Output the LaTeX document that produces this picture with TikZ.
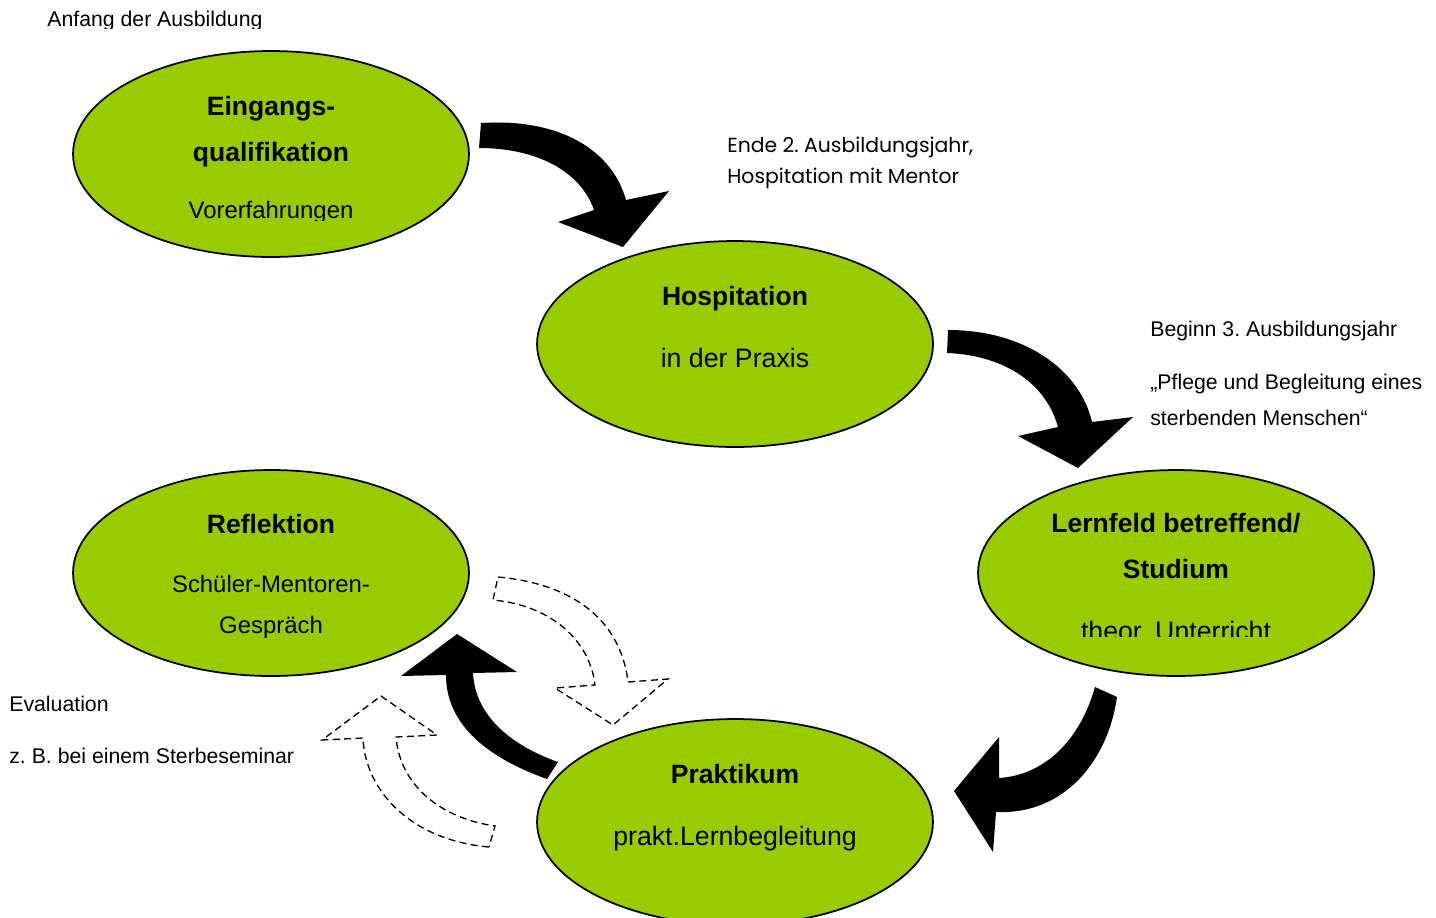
\documentclass[tikz,border=0pt]{standalone}
\usepackage{fontspec}
\setmainfont{Liberation Sans}
\newfontfamily\gothicfont{Poppins}
\usetikzlibrary{shapes.geometric}
\definecolor{lime}{HTML}{99CC00}
\frenchspacing
\tikzset{
  phase/.style={ellipse, draw=black, line width=1pt, fill=lime, minimum width=7.92cm, minimum height=4.12cm, inner sep=0pt},
  title/.style={anchor=base, font=\bfseries\fontsize{15.1}{18}\selectfont},
  sub/.style={anchor=base, font=\fontsize{13.6}{16}\selectfont},
  subbig/.style={anchor=base, font=\fontsize{15.2}{18}\selectfont},
  note/.style={anchor=base west, inner sep=0pt, font=\fontsize{12.1}{14}\selectfont},
  gnote/.style={anchor=base west, inner sep=0pt, font=\gothicfont\fontsize{11.6}{14}\selectfont},
  ghost/.style={draw=black, dash pattern=on 4pt off 2.5pt, line width=0.75pt, fill=white}
}
\begin{document}
\begin{tikzpicture}[x=0.02cm, y=-0.02cm]
  \useasboundingbox (0,0) rectangle (1436,917);
  \node[phase] (eing) at (271,154) {};
  \node[phase] (hosp) at (735,344) {};
  \node[phase] (lern) at (1176,573) {};
  \node[phase] (refl) at (271,573) {};
  \node[phase] (prak) at (735,822) {};

  \begin{scope}
    \clip (0,0) rectangle (400,28.7);
    \node[note] (anfang) at (47,26.5) {Anfang der Ausbildung};
  \end{scope}
  \node[title] (eing1) at (271,115) {Eingangs-};
  \node[title] (eing2) at (271,161) {qualifikation};
  \begin{scope}
    \clip (80,0) rectangle (460,220.7);
    \node[sub] (eing3) at (271,218.3) {Vorerfahrungen};
  \end{scope}

  \node[gnote] (ende1) at (727,152) {Ende 2. Ausbildungsjahr,};
  \node[gnote] (ende2) at (727,183) {Hospitation mit Mentor};

  \node[title] (hosp1) at (735,305) {Hospitation};
  \node[subbig] (hosp2) at (735,367) {in der Praxis};

  \node[note] (beginn1) at (1150,336) {Beginn 3. Ausbildungsjahr};
  \node[note] (beginn2) at (1150,389) {„Pflege und Begleitung eines};
  \node[note] (beginn3) at (1150,425) {sterbenden Menschen“};

  \node[title] (lern1) at (1176,532) {Lernfeld betreffend/};
  \node[title] (lern2) at (1176,578) {Studium};
  \begin{scope}
    \clip (990,0) rectangle (1360,636.7);
    \node[subbig] (lern3) at (1176,640) {theor. Unterricht};
  \end{scope}

  \node[title] (refl1) at (271,533) {Reflektion};
  \node[sub] (refl2) at (271,592) {Schüler-Mentoren-};
  \node[sub] (refl3) at (271,633) {Gespräch};

  \node[note] (eval1) at (9,711) {Evaluation};
  \node[note] (eval2) at (9,763) {z. B. bei einem Sterbeseminar};

  \node[title] (prak1) at (735,783) {Praktikum};
  \node[subbig] (prak2) at (735,845) {prakt.Lernbegleitung};

  \fill (481,123) .. controls (560,118) and (612,150) .. (626,200) -- (669,191) -- (623,247) -- (558,222) -- (594,210) .. controls (580,170) and (535,148) .. (479,148) -- cycle;
  \fill (948,330) .. controls (1025,330) and (1080,370) .. (1092,422) -- (1133,417) -- (1078,468) -- (1018,436) -- (1058,427) .. controls (1045,380) and (1000,355) .. (947,353) -- cycle;
  \fill (1095,687) .. controls (1080,740) and (1045,775) .. (999,778) -- (999,737) -- (954,791) -- (993,852) -- (996,812) .. controls (1065,815) and (1108,760) .. (1117,697) -- cycle;
  \fill (547,779) .. controls (480,755) and (446,720) .. (446,675) -- (401,676) -- (457,634) -- (517,672) -- (473,673) .. controls (475,715) and (510,745) .. (558,762) -- cycle;

  \filldraw[ghost] (498,577) .. controls (585,585) and (622,630) .. (628,682) -- (668,679) -- (613,725) -- (555,688) -- (595,685) .. controls (590,640) and (550,605) .. (493,600) -- cycle;
  \filldraw[ghost] (489,847) .. controls (410,840) and (365,790) .. (363,738) -- (322,740) -- (381,696) -- (437,735) -- (396,737) .. controls (400,785) and (440,818) .. (495,826) -- cycle;
\end{tikzpicture}
\end{document}
